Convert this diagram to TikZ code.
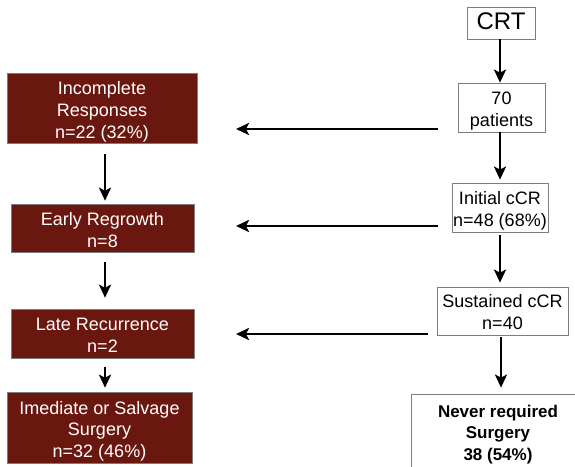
\documentclass[tikz,border=0pt]{standalone}
\usepackage{fontspec}
\setmainfont{Liberation Sans}
\usetikzlibrary{arrows.meta}
\definecolor{boxred}{RGB}{106,24,15}
\definecolor{edgegray}{RGB}{125,125,125}
\newcommand\boxtxt[2][4pt]{\raisebox{-#1}[\height][\depth]{\begin{tabular}{@{}c@{}}#2\end{tabular}}}
\begin{document}
\begin{tikzpicture}[x=1pt,y=-1pt,
  redbox/.style={draw=edgegray, line width=0.6pt, fill=boxred, text=white,
    font=\fontsize{18}{21.8}\selectfont, inner sep=0pt},
  whitebox/.style={draw=edgegray, line width=0.8pt, fill=white,
    font=\fontsize{18}{21.8}\selectfont, inner sep=0pt},
  arr/.style={line width=2.6pt, -{Stealth[length=13pt,width=12pt,inset=3pt]}}]
\clip (0,0) rectangle (575,466);
% left column
\node[redbox, minimum width=190pt, minimum height=70pt] (inc) at (102,108) {\boxtxt{Incomplete\\Responses\\n=22 (32\%)}};
\node[redbox, minimum width=183pt, minimum height=48pt] (early) at (102.5,228) {\boxtxt{Early Regrowth\\n=8}};
\node[redbox, minimum width=183pt, minimum height=49pt] (late) at (102.5,333.5) {\boxtxt{Late Recurrence\\n=2}};
\node[redbox, minimum width=185pt, minimum height=71pt] (imed) at (99.5,427.5) {\boxtxt{Imediate or Salvage\\Surgery\\n=32 (46\%)}};
% right column
\node[whitebox, minimum width=68pt, minimum height=32pt, font=\fontsize{24}{28}\selectfont] (crt) at (501,23) {\boxtxt[1pt]{CRT}};
\node[whitebox, minimum width=87pt, minimum height=49pt] (pat) at (501.5,107.5) {\boxtxt{70\\patients}};
\node[whitebox, minimum width=96pt, minimum height=49pt] (init) at (500,207.5) {\boxtxt{Initial cCR\\n=48 (68\%)}};
\node[whitebox, minimum width=131pt, minimum height=48pt] (sust) at (502.5,311) {\boxtxt[3pt]{Sustained cCR\\n=40}};
\node[whitebox, minimum width=174pt, minimum height=76pt, font=\fontsize{17}{21.8}\selectfont\bfseries] (never) at (498,432) {\boxtxt[2.5pt]{Never required\\Surgery\\38 (54\%)}};
% vertical arrows, right
\draw[arr] ([xshift=-1pt]crt.south) -- ([xshift=-1pt]crt.south |- pat.north);
\draw[arr, shorten >=3pt] ([xshift=-1.5pt]pat.south) -- ([xshift=-1.5pt]pat.south |- init.north);
\draw[arr, shorten <=3pt, shorten >=4pt] (init.south) -- (init.south |- sust.north);
\draw[arr, shorten <=2pt, shorten >=6pt] ([xshift=-1.5pt]sust.south) -- ([xshift=-1.5pt]sust.south |- never.north);
% vertical arrows, left
\draw[arr, shorten <=11pt, shorten >=3pt] ([xshift=3pt]inc.south) -- ([xshift=3pt]inc.south |- early.north);
\draw[arr, shorten <=10pt, shorten >=11pt] ([xshift=2.5pt]early.south) -- ([xshift=2.5pt]early.south |- late.north);
\draw[arr, shorten <=9pt, shorten >=4pt] ([xshift=2.5pt]late.south) -- ([xshift=2.5pt]late.south |- imed.north);
% horizontal arrows
\coordinate (h1s) at (438,129);
\coordinate (h1e) at (236,129);
\coordinate (h2s) at (438,226);
\coordinate (h2e) at (236,226);
\coordinate (h3s) at (428,334);
\coordinate (h3e) at (236,334);
\draw[arr] (h1s) -- (h1e);
\draw[arr] (h2s) -- (h2e);
\draw[arr] (h3s) -- (h3e);
\end{tikzpicture}
\end{document}
